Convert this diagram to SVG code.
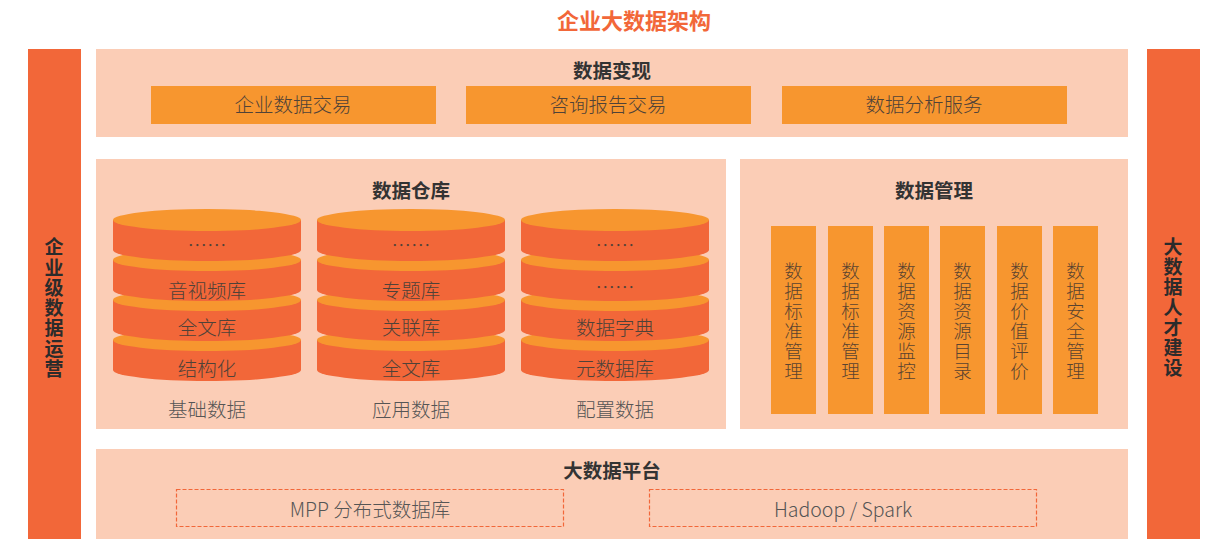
<svg xmlns="http://www.w3.org/2000/svg" width="1214" height="539" viewBox="0 0 1214 539">
<style>
text{font-family:"Noto Sans CJK SC","Noto Sans",sans-serif;text-anchor:middle;dominant-baseline:central}
.panel{fill:#FBCDB6}
.bar{fill:#F26739}
.btn{fill:#F7962F}
.title{font-size:22px;font-weight:bold;fill:#F26739}
.sec{font-size:19.5px;font-weight:bold;fill:#333}
.side{font-size:19px;font-weight:bold;fill:#2b2b2b;writing-mode:vertical-rl;text-orientation:upright;letter-spacing:1.25px}
.lbl{font-size:19.5px;font-weight:300;fill:#4f4238}
.sub{font-size:19.5px;font-weight:300;fill:#555}
.vt{font-size:18.5px;font-weight:300;fill:#5a4330;writing-mode:vertical-rl;text-orientation:upright;letter-spacing:1.5px}
.ctop{fill:#F7962F}
.cbody{fill:#F26739}
.dash{fill:none;stroke:#F26739;stroke-width:1.2;stroke-dasharray:4 2}
</style>
<defs>
<g id="layer">
<path class="cbody" d="M-94,0 L-94,30 A94,11 0 0 0 94,30 L94,0 Z"/>
<ellipse class="ctop" cx="0" cy="0" rx="94" ry="11"/>
</g>
</defs>
<rect width="1214" height="539" fill="#fff"/>
<text class="title" x="634" y="19">企业大数据架构</text>

<g id="left-bar">
<rect class="bar" x="28" y="49" width="53" height="490"/>
<text class="side" x="54" y="308.5">企业级数据运营</text>
</g>
<g id="right-bar">
<rect class="bar" x="1147" y="49" width="53" height="490"/>
<text class="side" x="1173" y="308">大数据人才建设</text>
</g>

<g id="data-monetize">
<rect class="panel" x="96" y="49" width="1032" height="88"/>
<text class="sec" x="612" y="69">数据变现</text>
<rect class="btn" x="151" y="86" width="285" height="38"/>
<text class="lbl" x="293" y="103.5">企业数据交易</text>
<rect class="btn" x="466" y="86" width="285" height="38"/>
<text class="lbl" x="608" y="103.5">咨询报告交易</text>
<rect class="btn" x="782" y="86" width="285" height="38"/>
<text class="lbl" x="924" y="103.5">数据分析服务</text>
</g>

<g id="data-warehouse">
<rect class="panel" x="96" y="159" width="630" height="270"/>
<text class="sec" x="411" y="189">数据仓库</text>
<g id="cyl-basic">
<use href="#layer" x="207" y="340"/><use href="#layer" x="207" y="300"/><use href="#layer" x="207" y="260"/><use href="#layer" x="207" y="220"/>
<text class="lbl" x="207" y="244">……</text>
<text class="lbl" x="207" y="289">音视频库</text>
<text class="lbl" x="207" y="326">全文库</text>
<text class="lbl" x="207" y="367">结构化</text>
<text class="sub" x="207" y="408">基础数据</text>
</g>
<g id="cyl-app">
<use href="#layer" x="411" y="340"/><use href="#layer" x="411" y="300"/><use href="#layer" x="411" y="260"/><use href="#layer" x="411" y="220"/>
<text class="lbl" x="411" y="244">……</text>
<text class="lbl" x="411" y="289">专题库</text>
<text class="lbl" x="411" y="326">关联库</text>
<text class="lbl" x="411" y="367">全文库</text>
<text class="sub" x="411" y="408">应用数据</text>
</g>
<g id="cyl-config">
<use href="#layer" x="615" y="340"/><use href="#layer" x="615" y="300"/><use href="#layer" x="615" y="260"/><use href="#layer" x="615" y="220"/>
<text class="lbl" x="615" y="244">……</text>
<text class="lbl" x="615" y="286">……</text>
<text class="lbl" x="615" y="326">数据字典</text>
<text class="lbl" x="615" y="367">元数据库</text>
<text class="sub" x="615" y="408">配置数据</text>
</g>
</g>

<g id="data-management">
<rect class="panel" x="740" y="159" width="388" height="270"/>
<text class="sec" x="934" y="189">数据管理</text>
<g id="m1"><rect class="btn" x="771" y="226" width="45" height="188"/>
<text class="vt" x="793.5" y="321.5">数据标准管理</text></g>
<g id="m2"><rect class="btn" x="828" y="226" width="45" height="188"/>
<text class="vt" x="850.5" y="321.5">数据标准管理</text></g>
<g id="m3"><rect class="btn" x="884" y="226" width="45" height="188"/>
<text class="vt" x="906.5" y="321.5">数据资源监控</text></g>
<g id="m4"><rect class="btn" x="940" y="226" width="45" height="188"/>
<text class="vt" x="962.5" y="321.5">数据资源目录</text></g>
<g id="m5"><rect class="btn" x="997" y="226" width="45" height="188"/>
<text class="vt" x="1019.5" y="321.5">数据价值评价</text></g>
<g id="m6"><rect class="btn" x="1053" y="226" width="45" height="188"/>
<text class="vt" x="1075.5" y="321.5">数据安全管理</text></g>
</g>

<g id="bigdata-platform">
<rect class="panel" x="96" y="449" width="1032" height="90"/>
<text class="sec" x="612" y="469">大数据平台</text>
<rect class="dash" x="176.5" y="489.5" width="387" height="37"/>
<text class="sub" x="370" y="508">MPP 分布式数据库</text>
<rect class="dash" x="649.5" y="489.5" width="387" height="37"/>
<text class="sub" x="843" y="508">Hadoop / Spark</text>
</g>
<g id="connectors"/>
</svg>
